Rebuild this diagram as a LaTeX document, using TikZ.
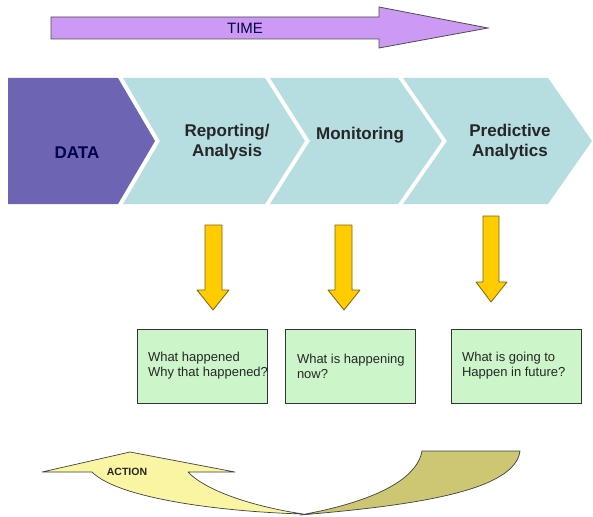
\documentclass[tikz,border=0pt]{standalone}
\usepackage{fontspec}
\setmainfont{Liberation Sans}
\definecolor{timefill}{HTML}{CC99F5}
\definecolor{datafill}{HTML}{6D64B3}
\definecolor{stepfill}{HTML}{B6DEE0}
\definecolor{gofill}{HTML}{FFCC00}
\definecolor{goline}{HTML}{7A6410}
\definecolor{qfill}{HTML}{CCF6CA}
\definecolor{actfill}{HTML}{FAF5A2}
\definecolor{actdark}{HTML}{CDC673}
\begin{document}
\begin{tikzpicture}[x=1pt, y=-1pt,
    heading/.style={font=\fontsize{17}{20}\selectfont\bfseries, align=center, text=black!85},
    qbox/.style={draw=black!80, fill=qfill, minimum width=130pt, minimum height=74pt, inner sep=0pt},
    qtext/.style={font=\fontsize{13}{15}\selectfont, align=left, inner sep=0pt, anchor=west, text=black!85},
    goarrow/.style={draw=goline, fill=gofill, line width=0.8pt, line join=round}]
        \useasboundingbox (0,0) rectangle (593,516);
        % time arrow
        \draw [fill=timefill, draw=black!70, line width=0.8pt] (51,17) -- (379,17) -- (379,7) -- (488,28)
            -- (379,48) -- (379,39) -- (51,39) -- cycle;
        \node [font=\fontsize{15}{17}\selectfont, text=black!75!blue] (time) at (245,28) {TIME};
        % chevrons
        \fill [datafill] (8,78) -- (118,78) -- (155,141) -- (118,204) -- (8,204) -- cycle;
        \fill [stepfill] (123,78) -- (265,78) -- (305,141) -- (265,204) -- (123,204) -- (160,141) -- cycle;
        \fill [stepfill] (270,78) -- (398,78) -- (442,141) -- (398,204) -- (270,204) -- (310,141) -- cycle;
        \fill [stepfill] (403,78) -- (548,78) -- (592,141) -- (548,204) -- (403,204) -- (447,141) -- cycle;
        \node [heading, text=black!70!blue] (data) at (77,153) {DATA};
        \node [heading] (report) at (227,142) {Reporting/\\Analysis};
        \node [heading] (monitor) at (360,135) {Monitoring};
        \node [heading] (predict) at (510,142) {Predictive\\Analytics};
        % down arrows
        \draw [goarrow] (205,225) -- (222,225) -- (222,290) -- (229,290) -- (213,310) -- (197,290) -- (205,290) -- cycle;
        \draw [goarrow] (335,225) -- (352,225) -- (352,290) -- (360,290) -- (344,310) -- (328,290) -- (335,290) -- cycle;
        \draw [goarrow] (483,216) -- (499,216) -- (499,282) -- (507,282) -- (491,302) -- (476,282) -- (483,282) -- cycle;
        % question boxes
        \node [qbox] (q1) at (202,366) {};
        \node [qbox] (q2) at (350,366) {};
        \node [qbox] (q3) at (516,366) {};
        \node [qtext] (t1) at ([xshift=11pt]q1.west) {What happened\\Why that happened?};
        \node [qtext] (t2) at ([xshift=12pt]q2.west) {What is happening\\now?};
        \node [qtext] (t3) at ([xshift=11pt]q3.west) {What is going to\\Happen in future?};
        % action arrow
        \draw [fill=actdark, draw=black!75, line width=0.7pt] (422,451) -- (520,451)
            .. controls (515,490) and (420,505) .. (300,515)
            .. controls (340,508) and (415,490) .. (422,451) -- cycle;
        \draw [fill=actfill, draw=black!75, line width=0.7pt, line join=round] (42,472) -- (130,452) -- (235,472) -- (188,472)
            .. controls (205,490) and (250,506) .. (303,514)
            .. controls (230,512) and (120,500) .. (92,472) -- cycle;
        \node [font=\fontsize{10.5}{12}\selectfont\bfseries, text=black!85] (action) at (127,472) {ACTION};
    \end{tikzpicture}
\end{document}
